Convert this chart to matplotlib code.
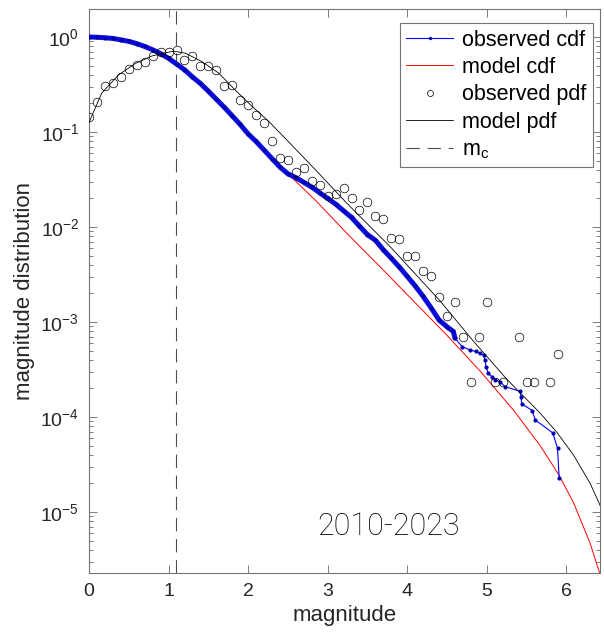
import numpy as np
import matplotlib
matplotlib.use("Agg")
import matplotlib.pyplot as plt
from matplotlib.ticker import LogLocator, NullFormatter

plt.rcParams['font.family'] = ['Liberation Sans', 'DejaVu Sans']
plt.rcParams['mathtext.fontset'] = 'custom'
plt.rcParams['mathtext.rm'] = 'Liberation Sans'
plt.rcParams['mathtext.it'] = 'Liberation Sans'

# observed cdf (empirical survival function)
obs_cdf_m = [0.0, 0.1, 0.2, 0.3, 0.4, 0.5, 0.6, 0.7, 0.8, 0.9,
             1.0, 1.1, 1.2, 1.3, 1.4, 1.5, 1.6, 1.7, 1.8, 1.9,
             2.0, 2.1, 2.2, 2.3, 2.4, 2.5, 2.6, 2.7, 2.8, 2.9,
             3.0, 3.1, 3.2, 3.3, 3.4, 3.5, 3.6, 3.7, 3.8, 3.9,
             4.0, 4.1, 4.2, 4.3, 4.4, 4.5, 4.58, 4.60, 4.69, 4.79,
             4.86, 4.92, 4.96, 4.98, 4.99, 5.02, 5.07, 5.11, 5.17, 5.23,
             5.42, 5.43, 5.44, 5.57, 5.61, 5.83, 5.89, 5.91]
obs_cdf_v = [1.0, 0.993, 0.982, 0.964, 0.933, 0.899, 0.851, 0.794, 0.733, 0.668,
             0.596, 0.519, 0.452, 0.380, 0.324, 0.269, 0.221, 0.182, 0.148, 0.120,
             0.0955, 0.0794, 0.0646, 0.0525, 0.0427, 0.0363, 0.0331, 0.0295, 0.0263, 0.0229,
             0.0200, 0.0174, 0.0148, 0.0126, 0.0102, 0.00832, 0.00724, 0.00575, 0.00468, 0.00380,
             0.00302, 0.00240, 0.00186, 0.00141, 0.00105, 8.9e-4, 7.94e-4, 6.76e-4, 5.50e-4, 5.07e-4,
             4.90e-4, 4.68e-4, 4.47e-4, 3.98e-4, 3.39e-4, 2.88e-4, 2.63e-4, 2.45e-4, 2.34e-4, 2.09e-4,
             1.86e-4, 1.62e-4, 1.38e-4, 1.17e-4, 9.3e-5, 6.8e-5, 4.7e-5, 2.3e-5]
dense_until = 4.6

# model cdf
mod_cdf_m = [0.0, 0.2, 0.4, 0.6, 0.8, 1.0, 1.2, 1.4, 1.6, 1.8, 2.0, 2.2, 2.4, 2.6,
             2.86, 3.28, 3.66, 4.08, 4.50, 4.92, 5.34, 5.67, 5.90, 6.09, 6.30, 6.42]
mod_cdf_v = [1.0, 0.982, 0.933, 0.851, 0.733, 0.596, 0.452, 0.324, 0.221, 0.148, 0.0955,
             0.0646, 0.0427, 0.0302, 0.0186, 0.00794, 0.00380, 0.00166, 7.24e-4, 3.02e-4,
             1.17e-4, 5.01e-5, 2.51e-5, 1.26e-5, 4.68e-6, 2.26e-6]

# observed pdf (0.1 bins)
obs_pdf_m = [0.0, 0.1, 0.2, 0.3, 0.4, 0.5, 0.6, 0.7, 0.8, 0.9,
             1.0, 1.1, 1.2, 1.3, 1.4, 1.5, 1.6, 1.7, 1.8, 1.9,
             2.0, 2.1, 2.2, 2.3, 2.4, 2.5, 2.6, 2.7, 2.8, 2.9,
             3.0, 3.1, 3.2, 3.3, 3.4, 3.5, 3.6, 3.7, 3.8, 3.9,
             4.0, 4.1, 4.2, 4.3, 4.4, 4.5, 4.6, 4.7, 4.8, 4.9,
             5.0, 5.1, 5.2, 5.4, 5.5, 5.6, 5.8, 5.9]
obs_pdf_v = [0.143, 0.209, 0.302, 0.331, 0.380, 0.457, 0.507, 0.550, 0.631, 0.692,
             0.692, 0.729, 0.575, 0.631, 0.490, 0.490, 0.447, 0.302, 0.313, 0.219,
             0.191, 0.151, 0.123, 0.0813, 0.0537, 0.0501, 0.0380, 0.0417, 0.0302, 0.0275,
             0.0214, 0.0224, 0.0257, 0.0200, 0.0151, 0.0182, 0.0129, 0.0120, 0.00759, 0.00741,
             0.00490, 0.00490, 0.00347, 0.00302, 0.00185, 0.00116, 0.00162, 7.0e-4, 2.32e-4, 7.0e-4,
             0.00162, 2.32e-4, 2.32e-4, 7.0e-4, 2.32e-4, 2.32e-4, 2.32e-4, 4.64e-4]

# model pdf
mod_pdf_m = [0.0, 0.08, 0.16, 0.37, 0.58, 0.79, 1.0, 1.07, 1.21, 1.42, 1.63, 1.84,
             2.05, 2.26, 2.47, 2.86, 3.24, 3.8, 4.415, 4.83, 5.25, 5.67, 5.88,
             6.09, 6.30, 6.43]
mod_pdf_v = [0.126, 0.18, 0.257, 0.398, 0.525, 0.631, 0.692, 0.708, 0.676, 0.550,
             0.417, 0.275, 0.186, 0.129, 0.0851, 0.0389, 0.0178, 0.00603, 0.00166,
             6.31e-4, 2.51e-4, 1.10e-4, 6.92e-5, 3.98e-5, 2.00e-5, 1.15e-5]

m_c = 1.09
period = "2010-2023"

fig = plt.figure(figsize=(6.04, 6.38), dpi=100)
ax = fig.add_axes([0.1474, 0.1019, 0.8468, 0.884])

blue = '#0000ff'
m_arr = np.array(obs_cdf_m)
v_arr = np.array(obs_cdf_v)
dense = m_arr <= dense_until

ax.plot(mod_cdf_m, mod_cdf_v, color='red', lw=0.7, zorder=2, label='model cdf')
ax.plot(m_arr[dense], v_arr[dense], color='#1010d0', lw=3.6, zorder=3,
        solid_capstyle='round')
ax.plot(m_arr, v_arr, color=blue, lw=0.8, marker='.', ms=4, mfc='#0000b0',
        mec='#0000b0', zorder=4, label='observed cdf')
ax.plot(obs_pdf_m, obs_pdf_v, ls='none', marker='o', ms=6.2, mfc='none',
        mec='black', mew=0.5, zorder=5, label='observed pdf')
ax.plot(mod_pdf_m, mod_pdf_v, color='black', lw=0.6, zorder=4, label='model pdf')
ax.axvline(m_c, color='0.3', lw=0.8, dashes=(12, 7), zorder=1, label='m$_\\mathrm{c}$')

ax.set_yscale('log')
ax.set_xlim(0, 6.43)
ax.set_ylim(2.28e-6, 1.97)
ax.set_xticks(range(7))
ax.yaxis.set_major_locator(LogLocator(base=10, numticks=12))
ax.yaxis.set_minor_locator(LogLocator(base=10, subs=np.arange(2, 10), numticks=12))
ax.yaxis.set_minor_formatter(NullFormatter())

for s in ax.spines.values():
    s.set_color('0.45')
    s.set_linewidth(0.8)
ax.tick_params(which='both', direction='in', top=True, right=True,
               color='0.4', width=0.6, labelcolor='0.15', labelsize=14)
ax.tick_params(which='major', length=6, pad=7)
ax.tick_params(which='minor', length=3)

ax.set_xlabel('magnitude', fontsize=16, color='0.15', labelpad=4)
ax.set_ylabel('magnitude distribution', fontsize=16, color='0.15', labelpad=4)

handles, labels = ax.get_legend_handles_labels()
order = ['observed cdf', 'model cdf', 'observed pdf', 'model pdf', 'm$_\\mathrm{c}$']
hmap = dict(zip(labels, handles))
leg = ax.legend([hmap[k] for k in order], order, loc='upper right',
                bbox_to_anchor=(0.985, 0.975), borderaxespad=0, fontsize=15.5,
                fancybox=False, framealpha=1, edgecolor='0.45', handlelength=2.2,
                handletextpad=0.4, labelspacing=0.3, borderpad=0.3, markerscale=0.7)
leg.get_frame().set_linewidth(0.8)

ax.text(0.586, 0.082, period, transform=ax.transAxes, ha='center', va='center',
        fontsize=22, family=['Roboto', 'Liberation Sans'], fontweight='light',
        color='black')

fig.savefig('out.png', dpi=100, facecolor='white')
